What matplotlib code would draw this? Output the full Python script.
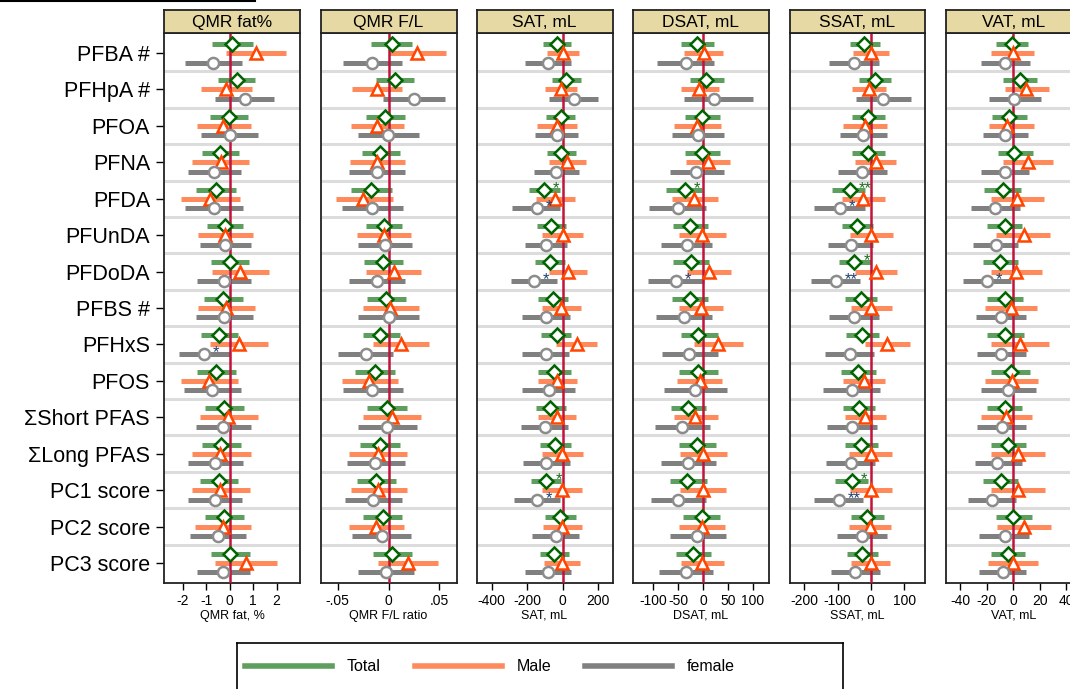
import matplotlib.pyplot as plt
from matplotlib.lines import Line2D
import numpy as np

plt.rcParams['font.family'] = ['Liberation Sans', 'DejaVu Sans']

# exposures (rows, top to bottom)
exposures = ["PFBA #", "PFHpA #", "PFOA", "PFNA", "PFDA", "PFUnDA", "PFDoDA",
             "PFBS #", "PFHxS", "PFOS", "ΣShort PFAS", "ΣLong PFAS",
             "PC1 score", "PC2 score", "PC3 score"]

titles = ["QMR fat%", "QMR F/L", "SAT, mL", "DSAT, mL", "SSAT, mL", "VAT, mL"]
xlabels = ["QMR fat, %", "QMR F/L ratio", "SAT, mL", "DSAT, mL", "SSAT, mL", "VAT, mL"]
xticks = [[-2, -1, 0, 1, 2], [-0.05, 0, 0.05], [-400, -200, 0, 200],
          [-100, -50, 0, 50, 100], [-200, -100, 0, 100], [-40, -20, 0, 20, 40]]
xticklabels = [["-2", "-1", "0", "1", "2"], ["-.05", "0", ".05"],
               ["-400", "-200", "0", "200"], ["-100", "-50", "0", "50", "100"],
               ["-200", "-100", "0", "100"], ["-40", "-20", "0", "20", "40"]]
xlims = [(-2.81, 3.0), (-0.067, 0.067), (-486, 282), (-140, 132), (-244, 164), (-50.75, 52)]

# (estimate, lower, upper) per exposure
fat_total = [(0.09, -0.77, 0.99), (0.29, -0.51, 1.07), (-0.04, -0.86, 0.77), (-0.41, -1.2, 0.39),
             (-0.59, -1.46, 0.26), (-0.21, -0.99, 0.56), (0.0, -0.81, 0.81), (-0.3, -1.11, 0.56),
             (-0.44, -1.24, 0.34), (-0.59, -1.41, 0.26), (-0.24, -1.07, 0.6), (-0.39, -1.2, 0.47),
             (-0.47, -1.29, 0.34), (-0.24, -1.07, 0.6), (0.01, -0.81, 0.86)]
fat_male = [(1.11, -0.17, 2.4), (-0.14, -1.24, 0.94), (-0.27, -1.41, 0.9), (-0.39, -1.63, 0.81),
            (-0.84, -2.1, 0.43), (-0.21, -1.37, 0.99), (0.43, -0.77, 1.67), (-0.17, -1.37, 1.07),
            (0.4, -0.86, 1.63), (-0.89, -2.1, 0.34), (-0.09, -1.29, 1.2), (-0.41, -1.63, 0.9),
            (-0.41, -1.63, 0.86), (-0.3, -1.5, 0.9), (0.69, -0.64, 2.01)]
fat_female = [(-0.71, -1.93, 0.51), (0.64, -0.64, 1.89), (-0.01, -1.24, 1.2), (-0.67, -1.8, 0.47),
              (-0.69, -1.93, 0.56), (-0.21, -1.29, 0.9), (-0.26, -1.41, 0.9), (-0.26, -1.46, 0.99),
              (-1.11, -2.19, 0.0), (-0.74, -1.97, 0.47), (-0.27, -1.46, 0.9), (-0.63, -1.8, 0.56),
              (-0.61, -1.8, 0.51), (-0.51, -1.71, 0.69), (-0.27, -1.41, 0.86)]

fl_total = [(0.003, -0.0174, 0.0232), (0.0068, -0.0123, 0.0256), (-0.0034, -0.0225, 0.0167),
            (-0.0082, -0.0266, 0.0113), (-0.017, -0.037, 0.003), (-0.0041, -0.0225, 0.0133),
            (-0.0055, -0.0239, 0.0143), (-0.002, -0.0215, 0.017), (-0.0082, -0.0256, 0.0113),
            (-0.0133, -0.0328, 0.0061), (-0.0017, -0.0208, 0.018), (-0.0085, -0.0276, 0.0113),
            (-0.0123, -0.031, 0.0072), (-0.0055, -0.0256, 0.0133), (0.0038, -0.0157, 0.0232)]
fl_male = [(0.028, 0.0, 0.057), (-0.0113, -0.036, 0.0133), (-0.0113, -0.037, 0.015),
           (-0.0113, -0.038, 0.0167), (-0.025, -0.052, 0.004), (-0.0041, -0.031, 0.022),
           (0.0051, -0.0225, 0.0324), (0.0014, -0.0256, 0.0297), (0.0126, -0.0154, 0.040),
           (-0.019, -0.046, 0.0092), (0.0031, -0.025, 0.0317), (-0.0102, -0.039, 0.018),
           (-0.0102, -0.037, 0.018), (-0.0126, -0.039, 0.015), (0.0188, -0.0102, 0.0488)]
fl_female = [(-0.016, -0.045, 0.0133), (0.0256, -0.005, 0.056), (-0.0007, -0.030, 0.0297),
             (-0.0113, -0.039, 0.0167), (-0.016, -0.046, 0.0143), (-0.003, -0.030, 0.0235),
             (-0.0113, -0.039, 0.016), (0.0, -0.030, 0.0297), (-0.022, -0.0495, 0.004),
             (-0.016, -0.045, 0.0143), (-0.0017, -0.030, 0.0276), (-0.013, -0.041, 0.0167),
             (-0.0154, -0.043, 0.0133), (-0.0061, -0.036, 0.022), (-0.0024, -0.030, 0.0256)]

sat_total = [(-30, -112, 46), (21, -61, 103), (-11, -95, 69), (-8, -88, 76), (-105, -190, -15),
             (-67, -145, 19), (-72, -156, 11), (-55, -141, 30), (-32, -124, 50), (-48, -141, 46),
             (-69, -152, 19), (-42, -130, 46), (-91, -181, -8), (-13, -99, 76), (-46, -130, 34)]
sat_male = [(0, -90, 91), (-11, -99, 82), (-30, -145, 82), (25, -76, 130), (-42, -152, 69),
            (0, -114, 114), (30, -76, 139), (-8, -114, 103), (82, -38, 194), (-30, -137, 82),
            (-30, -137, 76), (-4, -114, 114), (-4, -114, 107), (-4, -112, 107), (-4, -107, 97)]
sat_female = [(-84, -213, 46), (63, -76, 202), (-30, -156, 88), (-36, -164, 91), (-147, -284, -15),
              (-91, -213, 25), (-164, -293, -32), (-91, -227, 40), (-91, -227, 34), (-76, -227, 69),
              (-101, -232, 30), (-91, -221, 42), (-147, -276, -15), (-36, -175, 91), (-80, -210, 46)]

dsat_total = [(-13, -45, 21), (5, -27, 41), (-2, -37, 33), (-2, -37, 33), (-37, -75, -3),
              (-27, -61, 9), (-25, -61, 11), (-27, -63, 9), (-11, -45, 29), (-11, -49, 29),
              (-31, -65, 5), (-13, -49, 25), (-32, -67, 7), (-3, -41, 33), (-21, -55, 15)]
dsat_male = [(1, -38, 39), (-9, -45, 31), (-13, -59, 35), (9, -35, 53), (-19, -63, 29),
             (-3, -49, 45), (11, -33, 55), (-5, -49, 39), (30, -19, 79), (-7, -53, 37),
             (-17, -59, 29), (-1, -47, 47), (-1, -47, 45), (-3, -49, 43), (-3, -45, 41)]
dsat_female = [(-35, -92, 21), (22, -39, 99), (-11, -63, 41), (-15, -67, 41), (-51, -109, 5),
               (-33, -85, 17), (-55, -111, 1), (-39, -95, 17), (-29, -83, 29), (-17, -79, 47),
               (-43, -97, 13), (-30, -85, 25), (-51, -105, 5), (-12, -67, 45), (-35, -89, 19)]

ssat_total = [(-19, -64, 28), (14, -34, 62), (-7, -55, 42), (-7, -55, 42), (-64, -117, -16),
              (-40, -87, 8), (-49, -97, 2), (-30, -79, 20), (-25, -76, 26), (-37, -90, 17),
              (-36, -85, 14), (-30, -79, 23), (-58, -109, -7), (-10, -61, 41), (-25, -73, 23)]
ssat_male = [(0, -54, 54), (-6, -57, 45), (-18, -84, 50), (15, -46, 77), (-24, -87, 42),
             (2, -64, 68), (17, -46, 80), (2, -61, 65), (49, -18, 119), (-21, -85, 44),
             (-16, -79, 47), (0, -67, 65), (0, -64, 65), (-3, -67, 62), (0, -61, 59)]
ssat_female = [(-51, -127, 26), (38, -43, 122), (-24, -94, 50), (-25, -100, 50), (-94, -172, -16),
               (-61, -130, 8), (-105, -181, -31), (-51, -127, 26), (-64, -139, 11), (-58, -145, 29),
               (-55, -133, 20), (-61, -136, 14), (-97, -172, -22), (-27, -103, 50), (-46, -121, 29)]

vat_total = [(-1, -13, 11), (5, -7.5, 18), (-3, -16, 10.5), (1, -11.5, 15), (-8, -22, 6),
             (-6.5, -19.5, 6.5), (-10, -23, 3.5), (-6.5, -19.5, 7.5), (-6, -19.5, 8), (-2, -16.5, 12.5),
             (-6.5, -19.5, 6.5), (-4, -17, 9.5), (-9, -22.5, 4), (0, -13, 14), (-4, -16.5, 9)]
vat_male = [(-0.5, -17, 16), (10, -6, 27), (-4.5, -18.5, 16), (11, -8, 30), (3, -17, 23),
            (8, -13, 28), (2, -17, 22), (-2, -21, 18), (5, -16.5, 27), (-1, -21, 18.5),
            (-5.5, -24.5, 14), (3.5, -17, 24), (4, -16.5, 24), (8, -12, 28.5), (0, -19, 18.5)]
vat_female = [(-6, -24.5, 12.5), (1, -18.5, 21), (-6, -23, 11), (-6, -24, 12), (-14, -32, 5),
              (-13, -30, 3.5), (-20, -38, -1.5), (-9, -28, 9.5), (-9, -27, 9.5), (-4, -24.5, 17),
              (-8.5, -27, 9.5), (-12, -29, 6.5), (-16, -34.5, 2), (-6.5, -25.5, 12), (-8, -25.5, 10)]

# significance marks: (panel, row, group, label); group 0=Total, 2=female
stars = [(0, 8, 2, "*"), (2, 4, 0, "*"), (2, 4, 2, "*"), (2, 6, 2, "*"), (2, 12, 0, "*"),
         (2, 12, 2, "*"), (3, 4, 0, "*"), (3, 6, 2, "*"), (4, 4, 0, "**"), (4, 4, 2, "*"),
         (4, 6, 0, "*"), (4, 6, 2, "**"), (4, 12, 0, "*"), (4, 12, 2, "**"), (5, 6, 2, "*")]

panels = [(fat_total, fat_male, fat_female), (fl_total, fl_male, fl_female),
          (sat_total, sat_male, sat_female), (dsat_total, dsat_male, dsat_female),
          (ssat_total, ssat_male, ssat_female), (vat_total, vat_male, vat_female)]

group_names = ["Total", "Male", "female"]
bar_colors = ["#5e9e5e", "#ff8a5b", "#808080"]
mk_styles = [dict(marker="D", ms=7, mec="#006400"),
             dict(marker="^", ms=8.5, mec="#ff4500"),
             dict(marker="o", ms=8, mec="#8c8c8c")]
offsets = [-0.25, 0.0, 0.26]
star_colors = ["#1e6b1e", None, "#1f3f73"]

W, H = 1070, 689
fig = plt.figure(figsize=(W / 100, H / 100), dpi=100)

lefts = [164, 320.5, 476.5, 633, 789.5, 946]
pw = 136
top, bottom = 33, 583
yy = np.arange(len(exposures))

axes = []
for i, left in enumerate(lefts):
    ax = fig.add_axes([left / W, (H - bottom) / H, pw / W, (bottom - top) / H])
    axes.append(ax)
    for b in yy[:-1] + 0.5:
        ax.axhline(b, color="#dcdcdc", lw=2.2, zorder=1)
    ax.axvline(0, color="#c0143c", lw=1.8, zorder=3)
    for g, data in enumerate(panels[i]):
        est = np.array([d[0] for d in data])
        lo = np.array([d[1] for d in data])
        hi = np.array([d[2] for d in data])
        y = yy + offsets[g]
        ax.hlines(y, lo, hi, color=bar_colors[g], lw=3.6, zorder=2)
        ax.plot(est, y, ls="none", mfc="white", mew=1.8, zorder=4, **mk_styles[g])
    for (p, r, g, lab) in stars:
        if p != i:
            continue
        ax.annotate(lab, (panels[p][g][r][0], r + offsets[g]), xytext=(6.5, 1),
                    textcoords="offset points", ha="left", va="center",
                    fontsize=12, color=star_colors[g], zorder=5)
    ax.set_xlim(*xlims[i])
    ax.set_ylim(14.55, -0.55)
    ax.set_xticks(xticks[i])
    ax.set_xticklabels(xticklabels[i], fontsize=10)
    ax.tick_params(axis="x", length=5, width=1, pad=3)
    ax.set_xlabel(xlabels[i], fontsize=9, labelpad=1)
    if i == 0:
        ax.set_yticks(yy)
        ax.set_yticklabels(exposures, fontsize=15.5)
        ax.tick_params(axis="y", length=6, width=1, pad=4)
    else:
        ax.set_yticks([])
    for s in ax.spines.values():
        s.set_linewidth(1.3)
        s.set_color("#222222")
    # panel header
    hx = fig.add_axes([left / W, (H - top) / H, pw / W, 23 / H])
    hx.set_facecolor("#e6d9a3")
    hx.set_xticks([])
    hx.set_yticks([])
    for s in hx.spines.values():
        s.set_linewidth(1.3)
        s.set_color("#222222")
    hx.text(0.5, 0.45, titles[i], ha="center", va="center", fontsize=12.5)

# line at the top left
fig.add_artist(Line2D([0, 255 / W], [1 - 1 / H, 1 - 1 / H], transform=fig.transFigure,
                      color="black", lw=1.5))

# legend box
lx = fig.add_axes([237 / W, -10 / H, 606 / W, 56 / H])
lx.set_xlim(237, 843)
lx.set_ylim(699, 643)
lx.set_xticks([])
lx.set_yticks([])
for s in lx.spines.values():
    s.set_linewidth(1.2)
    s.set_color("black")
for k, name in enumerate(group_names):
    x0 = 245 + k * 170
    lx.plot([x0, x0 + 87], [666, 666], color=bar_colors[k], lw=4)
    lx.text(x0 + 102, 666, name, ha="left", va="center", fontsize=11.5)

plt.savefig("out.png", dpi=100)
